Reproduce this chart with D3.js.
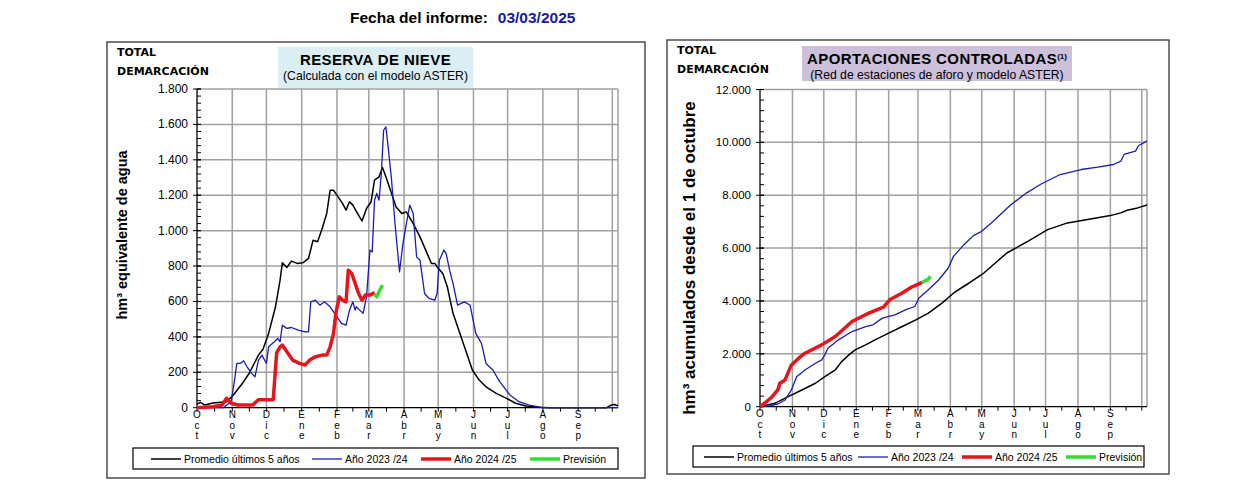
<!DOCTYPE html>
<html>
<head>
<meta charset="utf-8">
<script src="https://cdn.jsdelivr.net/npm/d3@7"></script>
<style>
  body { margin: 0; background: #fff; }
  svg { display: block; }
</style>
</head>
<body>
<svg id="chart" width="1241" height="484"></svg>
<script>
// --- datos (dia desde 1 oct, valor) ---
const meses = ["Oct", "Nov", "Dic", "Ene", "Feb", "Mar", "Abr", "May", "Jun", "Jul", "Ago", "Sep"];
const inicioMes = [0, 31, 61, 92, 123, 151, 182, 212, 243, 273, 304, 335, 365];
const ticksNieve = [0, 200, 400, 600, 800, 1000, 1200, 1400, 1600, 1800];
const ticksAport = [0, 2000, 4000, 6000, 8000, 10000, 12000];
const leyenda = ["Promedio últimos 5 años", "Año 2023 /24", "Año 2024 /25", "Previsión"];

const nievePromedio = [[0,20],[3,30],[7,15],[14,26],[26,34],[32,72],[41,147],[46,196],[54,297],[58,330],[63,421],[69,570],[73,720],[75,818],[79,792],[83,828],[88,815],[93,818],[98,843],[102,946],[106,937],[110,1012],[114,1097],[117,1228],[120,1228],[124,1191],[128,1153],[131,1116],[134,1163],[137,1144],[141,1097],[145,1055],[149,1125],[153,1163],[156,1285],[160,1304],[163,1357],[166,1304],[171,1210],[175,1134],[180,1097],[184,1106],[190,1040],[196,965],[201,890],[206,815],[209,815],[212,787],[216,758],[220,683],[225,533],[231,420],[237,307],[242,213],[248,156],[254,118],[263,81],[272,53],[280,25],[289,10],[301,2],[310,0],[360,0],[364,15],[367,18],[370,10]];
const nieve2324 = [[0,0],[23,0],[30,34],[33,156],[35,250],[38,250],[41,265],[44,231],[48,194],[51,175],[54,269],[57,297],[61,250],[63,344],[68,372],[71,391],[73,372],[75,466],[79,448],[83,453],[89,438],[95,428],[98,428],[100,598],[104,607],[108,579],[112,598],[117,570],[123,513],[127,476],[131,466],[134,551],[137,598],[139,551],[140,570],[143,551],[146,533],[149,626],[152,890],[154,880],[156,1172],[158,1210],[160,1172],[162,1323],[164,1567],[166,1586],[168,1473],[171,1285],[174,1040],[178,767],[181,928],[184,1040],[187,1144],[190,1097],[193,852],[196,833],[200,645],[204,617],[209,607],[211,645],[213,833],[217,890],[219,870],[222,777],[225,702],[229,579],[235,598],[240,579],[245,420],[250,363],[254,250],[260,213],[266,147],[275,72],[283,34],[292,15],[304,0],[370,0]];
const nieve2425 = [[0,0],[14,5],[22,15],[26,53],[30,25],[36,15],[49,15],[54,45],[67,45],[70,310],[73,344],[75,354],[79,316],[84,269],[90,250],[95,241],[99,269],[104,288],[110,297],[114,297],[117,344],[120,420],[122,533],[125,626],[128,607],[131,598],[133,777],[136,758],[139,702],[142,645],[145,607],[148,636],[152,636],[156,650]];
const nievePrevision = [[156,640],[158,626],[160,655],[163,692]];

const aportPromedio = [[0,0],[14,128],[27,380],[40,633],[53,887],[62,1137],[72,1391],[78,1706],[85,1960],[91,2150],[101,2339],[110,2529],[123,2782],[136,3033],[149,3287],[161,3541],[174,3920],[186,4330],[200,4680],[214,5057],[236,5815],[256,6255],[275,6699],[294,6953],[316,7104],[335,7229],[345,7332],[351,7430],[361,7521],[370,7630]];
const aport2324 = [[0,0],[10,40],[17,102],[24,254],[30,633],[35,1137],[43,1391],[53,1645],[59,1770],[62,1960],[65,2214],[75,2529],[88,2843],[101,3033],[108,3097],[117,3351],[129,3476],[139,3666],[148,3791],[152,4110],[161,4424],[171,4803],[180,5247],[185,5687],[195,6130],[204,6471],[212,6634],[223,7013],[240,7646],[255,8090],[268,8405],[287,8784],[307,8973],[323,9061],[338,9163],[345,9288],[348,9542],[359,9667],[362,9883],[370,10046]];
const aport2425 = [[0,0],[5,150],[8,254],[11,350],[13,443],[17,633],[19,887],[24,1012],[27,1300],[30,1580],[37,1835],[43,2024],[59,2339],[72,2654],[88,3222],[104,3541],[118,3768],[124,4045],[136,4299],[145,4526],[155,4700]];
const aportPrevision = [[155,4700],[161,4830],[163,4928]];

const svg = d3.select("#chart");
const fmt = d3.formatLocale({ decimal: ",", thousands: ".", grouping: [3] }).format(",");

// titulo general
const head = svg.append("text").attr("x", 350).attr("y", 23)
  .attr("font-family", "Liberation Sans, Arial").attr("font-weight", "bold").attr("font-size", 15.5);
head.append("tspan").text("Fecha del informe:");
head.append("tspan").attr("dx", 10).attr("fill", "#1a1aa0").text("03/03/2025");

const colores = ["#000000", "#1c1cb0", "#e8141c", "#33dd33"];
const grosores = [1.5, 1.3, 3.5, 3.5];

function panel(p) {
  const g = svg.append("g");
  // marco
  g.append("rect").attr("x", p.box[0]).attr("y", p.box[1]).attr("width", p.box[2]).attr("height", p.box[3])
    .attr("fill", "none").attr("stroke", "#333").attr("stroke-width", 1.3);

  g.append("text").attr("x", p.box[0] + 10).attr("y", p.box[1] + 14)
    .attr("font-family", "DejaVu Sans").attr("font-weight", "bold").attr("font-size", 11).text("TOTAL");
  g.append("text").attr("x", p.box[0] + 10).attr("y", p.box[1] + 33)
    .attr("font-family", "DejaVu Sans").attr("font-weight", "bold").attr("font-size", 11).text("DEMARCACIÓN");

  const x = d3.scaleLinear().domain([0, 370]).range([p.plot[0], p.plot[1]]);
  const y = d3.scaleLinear().domain([0, p.yMax]).range([p.plot[3], p.plot[2]]);

  // rejilla
  g.append("g").selectAll("line").data(p.ticks.slice(1)).join("line")
    .attr("x1", x(0)).attr("x2", x(370)).attr("y1", d => y(d)).attr("y2", d => y(d))
    .attr("stroke", "#a0a0a0").attr("stroke-width", 1.5);
  g.append("g").selectAll("line").data(inicioMes.slice(1).concat([370])).join("line")
    .attr("x1", d => x(d)).attr("x2", d => x(d)).attr("y1", y(0)).attr("y2", y(p.yMax))
    .attr("stroke", "#a0a0a0").attr("stroke-width", 1.5);

  // ejes
  const minor = d3.range(0, p.yMax + 1, p.yMax / (p.ticks.length - 1) / 5);
  g.append("g").selectAll("line").data(minor).join("line")
    .attr("x1", x(0)).attr("x2", x(0) + 4).attr("y1", d => y(d)).attr("y2", d => y(d))
    .attr("stroke", "#000").attr("stroke-width", 1);
  g.append("g").selectAll("line").data(p.ticks).join("line")
    .attr("x1", x(0) - 4).attr("x2", x(0) + 4).attr("y1", d => y(d)).attr("y2", d => y(d))
    .attr("stroke", "#000").attr("stroke-width", 1);
  g.append("line").attr("x1", x(0)).attr("x2", x(0)).attr("y1", y(0)).attr("y2", y(p.yMax))
    .attr("stroke", "#000").attr("stroke-width", 1.3);
  g.append("line").attr("x1", x(0)).attr("x2", x(370)).attr("y1", y(0)).attr("y2", y(0))
    .attr("stroke", "#000").attr("stroke-width", 1.3);
  const medios = inicioMes.slice(0, 12).map((d, i) => (d + inicioMes[i + 1]) / 2);
  g.append("g").selectAll("line").data(inicioMes.concat(medios)).join("line")
    .attr("x1", d => x(d)).attr("x2", d => x(d)).attr("y1", y(0)).attr("y2", y(0) + 4)
    .attr("stroke", "#000").attr("stroke-width", 1);

  g.append("g").selectAll("text").data(p.ticks).join("text")
    .attr("x", x(0) - 9).attr("y", d => y(d) + 4).attr("text-anchor", "end")
    .attr("font-family", "Liberation Sans, Arial").attr("font-size", p.tickSize).text(d => fmt(d));

  const mes = g.append("g").selectAll("text").data(meses).join("text")
    .attr("text-anchor", "middle").attr("font-family", "Liberation Sans, Arial").attr("font-size", 10);
  mes.each(function (m, i) {
    const t = d3.select(this);
    m.split("").forEach((c, k) => {
      t.append("tspan").attr("x", x(inicioMes[i])).attr("y", y(0) + 10.5 + k * 10.3).text(c);
    });
  });

  // titulo eje y
  g.append("text").attr("transform", `translate(${p.yLabelX},${p.yLabelY}) rotate(-90)`)
    .attr("text-anchor", "middle").attr("font-family", "Liberation Sans, Arial").attr("font-weight", "bold")
    .attr("font-size", p.yLabelSize).text(p.yLabel);

  // caja de titulo
  const tb = p.titleBox;
  g.append("rect").attr("x", tb[0]).attr("y", tb[1]).attr("width", tb[2]).attr("height", tb[3]).attr("fill", p.titleFill);
  const cx = tb[0] + tb[2] / 2;
  const t1 = g.append("text").attr("x", cx).attr("y", tb[1] + 18).attr("text-anchor", "middle")
    .attr("font-family", "Liberation Sans, Arial").attr("font-weight", "bold").attr("font-size", 15)
    .attr("letter-spacing", 0.4).text(p.title);
  if (p.sup) t1.append("tspan").attr("dy", -5).attr("font-size", 8).attr("letter-spacing", 0).text(p.sup);
  g.append("text").attr("x", cx).attr("y", tb[1] + 33).attr("text-anchor", "middle")
    .attr("font-family", "Liberation Sans, Arial").attr("font-size", 12.2).text(p.subtitle);

  // series
  const line = d3.line().x(d => x(d[0])).y(d => y(d[1]));
  p.series.forEach((s, i) => {
    g.append("path").datum(s).attr("d", line).attr("fill", "none")
      .attr("stroke", colores[i]).attr("stroke-width", grosores[i]).attr("stroke-linejoin", "round");
  });

  // leyenda
  const lb = p.legend;
  g.append("rect").attr("x", lb[0]).attr("y", lb[1]).attr("width", lb[2]).attr("height", 21)
    .attr("fill", "#fff").attr("stroke", "#000").attr("stroke-width", 1.2);
  leyenda.forEach((l, i) => {
    const lx = p.legendX[i], ly = lb[1] + 11;
    g.append("line").attr("x1", lx).attr("x2", lx + 30).attr("y1", ly).attr("y2", ly)
      .attr("stroke", colores[i]).attr("stroke-width", grosores[i]);
    g.append("text").attr("x", lx + 33).attr("y", ly + 3.5).attr("font-family", "Liberation Sans, Arial")
      .attr("font-size", 10.5).text(l);
  });
}

panel({
  box: [107, 42, 538, 436], plot: [197, 618, 89, 407.7], yMax: 1800, ticks: ticksNieve, tickSize: 12,
  yLabel: "hm³ equivalente de agua", yLabelX: 127, yLabelY: 235, yLabelSize: 14.5,
  titleBox: [278, 47, 195, 41], titleFill: "#daeef3", title: "RESERVA DE NIEVE", sup: null,
  subtitle: "(Calculada con el modelo ASTER)",
  series: [nievePromedio, nieve2324, nieve2425, nievePrevision],
  legend: [133, 448, 485], legendX: [151, 312, 421, 530]
});

panel({
  box: [667, 40, 502, 434], plot: [760, 1147, 89.5, 406.7], yMax: 12000, ticks: ticksAport, tickSize: 11.5,
  yLabel: "hm³ acumulados desde el 1 de octubre", yLabelX: 695, yLabelY: 258, yLabelSize: 17,
  titleBox: [802, 46, 270, 35], titleFill: "#ccc0da", title: "APORTACIONES CONTROLADAS", sup: "(1)",
  subtitle: "(Red de estaciones de aforo y modelo ASTER)",
  series: [aportPromedio, aport2324, aport2425, aportPrevision],
  legend: [693, 446, 451], legendX: [704, 858, 962, 1066]
});
</script>
</body>
</html>
